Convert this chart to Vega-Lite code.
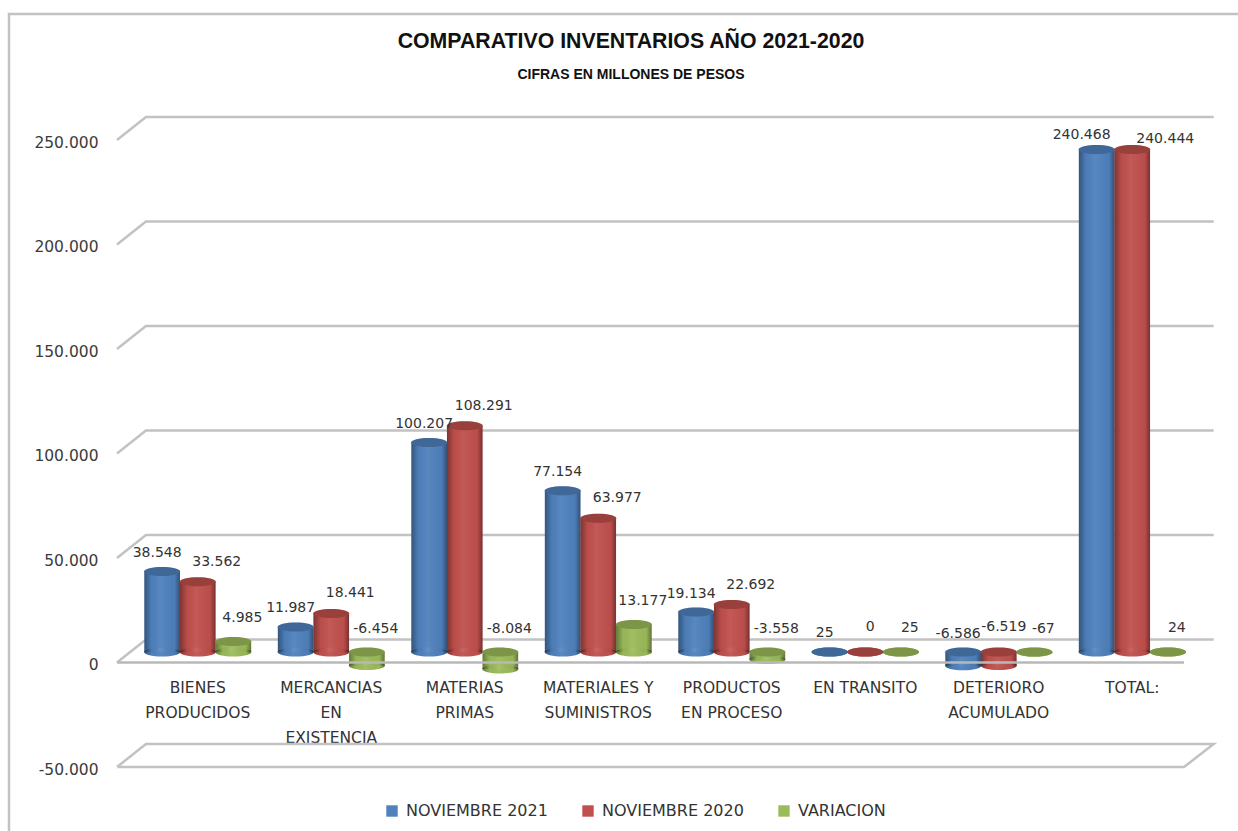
{
"$schema":"https://vega.github.io/schema/vega-lite/v6.json",
"width":1068,"height":627,
"autosize":{"type":"none"},
"padding":{"left":131,"top":140,"right":39,"bottom":64},
"background":"white",
"title":{"text":"COMPARATIVO INVENTARIOS  AÑO 2021-2020","subtitle":"CIFRAS EN MILLONES DE PESOS","anchor":"middle","dx":-34,"offset":-73,"font":"Liberation Sans","fontSize":21.3,"fontWeight":"bold","color":"#111111","subtitleFont":"Liberation Sans","subtitleFontSize":14,"subtitleFontWeight":"bold","subtitleColor":"#111111","subtitlePadding":16},
"config":{"view":{"stroke":null}},
"datasets":{
"wall":[
{"line":"frame","n":1,"xu":-0.914,"yu":-82000},{"line":"frame","n":2,"xu":-0.914,"yu":310287},{"line":"frame","n":3,"xu":8.4,"yu":310287},
{"line":"250000","n":1,"xu":-0.105,"yu":250000},{"line":"250000","n":2,"xu":0.112,"yu":261005},{"line":"250000","n":3,"xu":8.11,"yu":261005},
{"line":"200000","n":1,"xu":-0.105,"yu":200000},{"line":"200000","n":2,"xu":0.112,"yu":211005},{"line":"200000","n":3,"xu":8.11,"yu":211005},
{"line":"150000","n":1,"xu":-0.105,"yu":150000},{"line":"150000","n":2,"xu":0.112,"yu":161005},{"line":"150000","n":3,"xu":8.11,"yu":161005},
{"line":"100000","n":1,"xu":-0.105,"yu":100000},{"line":"100000","n":2,"xu":0.112,"yu":111005},{"line":"100000","n":3,"xu":8.11,"yu":111005},
{"line":"50000","n":1,"xu":-0.105,"yu":50000},{"line":"50000","n":2,"xu":0.112,"yu":61005},{"line":"50000","n":3,"xu":8.11,"yu":61005},
{"line":"0","n":1,"xu":-0.105,"yu":0},{"line":"0","n":2,"xu":0.112,"yu":11005},{"line":"0","n":3,"xu":8.11,"yu":11005},
{"line":"-50000","n":1,"xu":-0.105,"yu":-50000},{"line":"-50000","n":2,"xu":0.112,"yu":-38995},{"line":"-50000","n":3,"xu":8.11,"yu":-38995},{"line":"-50000","n":4,"xu":7.888,"yu":-50000},{"line":"-50000","n":5,"xu":-0.105,"yu":-50000}
],
"front":[{"line":"0f","n":1,"xu":-0.105,"yu":0},{"line":"0f","n":2,"xu":7.888,"yu":0}],
"rows":[
{"cat":"BIENES\nPRODUCIDOS","series":"NOVIEMBRE 2021","value":38548,"label":"38.548"},
{"cat":"BIENES\nPRODUCIDOS","series":"NOVIEMBRE 2020","value":33562,"label":"33.562"},
{"cat":"BIENES\nPRODUCIDOS","series":"VARIACION","value":4985,"label":"4.985"},
{"cat":"MERCANCIAS\nEN\nEXISTENCIA","series":"NOVIEMBRE 2021","value":11987,"label":"11.987"},
{"cat":"MERCANCIAS\nEN\nEXISTENCIA","series":"NOVIEMBRE 2020","value":18441,"label":"18.441"},
{"cat":"MERCANCIAS\nEN\nEXISTENCIA","series":"VARIACION","value":-6454,"label":"-6.454"},
{"cat":"MATERIAS\nPRIMAS","series":"NOVIEMBRE 2021","value":100207,"label":"100.207"},
{"cat":"MATERIAS\nPRIMAS","series":"NOVIEMBRE 2020","value":108291,"label":"108.291"},
{"cat":"MATERIAS\nPRIMAS","series":"VARIACION","value":-8084,"label":"-8.084"},
{"cat":"MATERIALES Y\nSUMINISTROS","series":"NOVIEMBRE 2021","value":77154,"label":"77.154"},
{"cat":"MATERIALES Y\nSUMINISTROS","series":"NOVIEMBRE 2020","value":63977,"label":"63.977"},
{"cat":"MATERIALES Y\nSUMINISTROS","series":"VARIACION","value":13177,"label":"13.177"},
{"cat":"PRODUCTOS\nEN PROCESO","series":"NOVIEMBRE 2021","value":19134,"label":"19.134"},
{"cat":"PRODUCTOS\nEN PROCESO","series":"NOVIEMBRE 2020","value":22692,"label":"22.692"},
{"cat":"PRODUCTOS\nEN PROCESO","series":"VARIACION","value":-3558,"label":"-3.558"},
{"cat":"EN TRANSITO","series":"NOVIEMBRE 2021","value":25,"label":"25"},
{"cat":"EN TRANSITO","series":"NOVIEMBRE 2020","value":0,"label":"0"},
{"cat":"EN TRANSITO","series":"VARIACION","value":25,"label":"25"},
{"cat":"DETERIORO\nACUMULADO","series":"NOVIEMBRE 2021","value":-6586,"label":"-6.586"},
{"cat":"DETERIORO\nACUMULADO","series":"NOVIEMBRE 2020","value":-6519,"label":"-6.519"},
{"cat":"DETERIORO\nACUMULADO","series":"VARIACION","value":-67,"label":"-67"},
{"cat":"TOTAL:","series":"NOVIEMBRE 2021","value":240468,"label":"240.468"},
{"cat":"TOTAL:","series":"NOVIEMBRE 2020","value":240444,"label":"240.444"},
{"cat":"TOTAL:","series":"VARIACION","value":24,"label":"24"}
]},
"resolve":{"scale":{"x":"independent"}},
"layer":[
{"data":{"name":"wall"},
 "mark":{"type":"line","stroke":"#c2c2c2","strokeWidth":2.5,"clip":false},
 "encoding":{
  "x":{"field":"xu","type":"quantitative","axis":null,"scale":{"domain":[0,8],"nice":false,"zero":false}},
  "y":{"field":"yu","type":"quantitative","scale":{"domain":[-50000,250000],"nice":false},"axis":{"values":[-50000,0,50000,100000,150000,200000,250000],"title":null,"grid":false,"domain":false,"ticks":false,"labelPadding":33,"labelOffset":2,"labelFont":"DejaVu Sans","labelFontSize":15.5,"labelColor":"#3b3b3b","labelExpr":"replace(replace(format(datum.value,',d'),',','.'),'−','-')"}},
  "detail":{"field":"line"},
  "order":{"field":"n"}
 }},
{"data":{"name":"rows"},
 "transform":[
  {"calculate":"max(datum.value,0)","as":"top"},
  {"calculate":"min(datum.value,0)","as":"low"}
 ],
 "encoding":{
  "x":{"field":"cat","type":"nominal","sort":null,"scale":{"paddingInner":0.2,"paddingOuter":0.1},"axis":{"orient":"bottom","title":null,"offset":-87,"domain":false,"ticks":false,"labelAngle":0,"labelPadding":0,"labelFont":"DejaVu Sans","labelFontSize":15.5,"labelColor":"#333333","labelLineHeight":25,"labelBaseline":"top","labelLimit":200,"labelExpr":"split(datum.label,'\\n')"}},
  "xOffset":{"field":"series","type":"nominal","scale":{"domain":["NOVIEMBRE 2021","NOVIEMBRE 2020","VARIACION"]}}
 },
 "layer":[
  {"mark":{"type":"point","filled":true,"opacity":1,"size":1296,"yOffset":-10.5,"shape":"M-1,0A1,0.25,0,1,1,1,0A1,0.25,0,1,1,-1,0Z"},
   "encoding":{"y":{"field":"low","type":"quantitative"},
    "color":{"field":"series","type":"nominal","scale":{"domain":["NOVIEMBRE 2021","NOVIEMBRE 2020","VARIACION"],"range":["#4f81bd","#c0504d","#9bbb59"]},
     "legend":{"title":null,"orient":"none","legendX":253,"legendY":663,"direction":"horizontal","symbolType":"square","symbolSize":130,"symbolStrokeWidth":0,"labelFont":"DejaVu Sans","labelFontSize":16,"labelColor":"#333333","columnPadding":32,"labelOffset":6}}}},
  {"mark":{"type":"bar","yOffset":-10.5,"y2Offset":-10.5},
   "encoding":{"y":{"field":"low","type":"quantitative"},"y2":{"field":"top"},"color":{"field":"series","type":"nominal"}}},
  {"mark":{"type":"bar","yOffset":-10.5,"y2Offset":-10.5,"fill":{"gradient":"linear","x1":0,"x2":1,"y1":0,"y2":0,"stops":[{"offset":0,"color":"rgba(0,0,0,0.35)"},{"offset":0.2,"color":"rgba(0,0,0,0.03)"},{"offset":0.45,"color":"rgba(255,255,255,0.06)"},{"offset":0.85,"color":"rgba(0,0,0,0.03)"},{"offset":1,"color":"rgba(0,0,0,0.38)"}]}},
   "encoding":{"y":{"field":"low","type":"quantitative"},"y2":{"field":"top"}}},
  {"mark":{"type":"point","filled":true,"opacity":1,"size":1296,"yOffset":-10.5,"shape":"M-1,0A1,0.25,0,1,1,1,0A1,0.25,0,1,1,-1,0Z","fill":{"gradient":"linear","x1":0,"x2":1,"y1":0,"y2":0,"stops":[{"offset":0,"color":"rgba(0,0,0,0.35)"},{"offset":0.2,"color":"rgba(0,0,0,0.03)"},{"offset":0.45,"color":"rgba(255,255,255,0.06)"},{"offset":0.85,"color":"rgba(0,0,0,0.03)"},{"offset":1,"color":"rgba(0,0,0,0.38)"}]}},
   "encoding":{"y":{"field":"low","type":"quantitative"}}},
  {"mark":{"type":"point","filled":true,"opacity":1,"size":1296,"yOffset":-10.5,"shape":"M-1,0A1,0.25,0,1,1,1,0A1,0.25,0,1,1,-1,0Z"},
   "encoding":{"y":{"field":"top","type":"quantitative"},"color":{"field":"series","type":"nominal"}}},
  {"mark":{"type":"point","filled":true,"opacity":0.2,"size":1296,"yOffset":-10.5,"color":"black","shape":"M-1,0A1,0.25,0,1,1,1,0A1,0.25,0,1,1,-1,0Z"},
   "encoding":{"y":{"field":"top","type":"quantitative"}}},
  {"transform":[{"filter":"datum.series=='NOVIEMBRE 2021' && datum.cat!='TOTAL:'"}],
   "mark":{"type":"text","dx":-5,"dy":-29,"font":"DejaVu Sans","fontSize":14,"fill":"#333333"},
   "encoding":{"y":{"field":"top","type":"quantitative"},"text":{"field":"label"}}},
  {"transform":[{"filter":"datum.series=='NOVIEMBRE 2021' && datum.cat=='TOTAL:'"}],
   "mark":{"type":"text","dx":-15,"dy":-24.5,"font":"DejaVu Sans","fontSize":14,"fill":"#333333"},
   "encoding":{"y":{"field":"top","type":"quantitative"},"text":{"field":"label"}}},
  {"transform":[{"filter":"datum.series=='NOVIEMBRE 2020' && abs(datum.value)>=10000 && datum.cat!='TOTAL:'"}],
   "mark":{"type":"text","dx":19,"dy":-30.5,"font":"DejaVu Sans","fontSize":14,"fill":"#333333"},
   "encoding":{"y":{"field":"top","type":"quantitative"},"text":{"field":"label"}}},
  {"transform":[{"filter":"datum.series=='NOVIEMBRE 2020' && abs(datum.value)<10000"}],
   "mark":{"type":"text","dx":5,"dy":-36,"font":"DejaVu Sans","fontSize":14,"fill":"#333333"},
   "encoding":{"y":{"field":"top","type":"quantitative"},"text":{"field":"label"}}},
  {"transform":[{"filter":"datum.series=='NOVIEMBRE 2020' && datum.cat=='TOTAL:'"}],
   "mark":{"type":"text","dx":33,"dy":-20.5,"font":"DejaVu Sans","fontSize":14,"fill":"#333333"},
   "encoding":{"y":{"field":"top","type":"quantitative"},"text":{"field":"label"}}},
  {"transform":[{"filter":"datum.series=='VARIACION'"}],
   "mark":{"type":"text","dx":9,"dy":-34,"font":"DejaVu Sans","fontSize":14,"fill":"#333333"},
   "encoding":{"y":{"field":"top","type":"quantitative"},"text":{"field":"label"}}}
 ]},
{"data":{"name":"front"},
 "mark":{"type":"line","stroke":"#b8b8b8","strokeWidth":2.5,"clip":false},
 "encoding":{
  "x":{"field":"xu","type":"quantitative","axis":null,"scale":{"domain":[0,8],"nice":false,"zero":false}},
  "y":{"field":"yu","type":"quantitative"},
  "order":{"field":"n"}
 }}
]
}
